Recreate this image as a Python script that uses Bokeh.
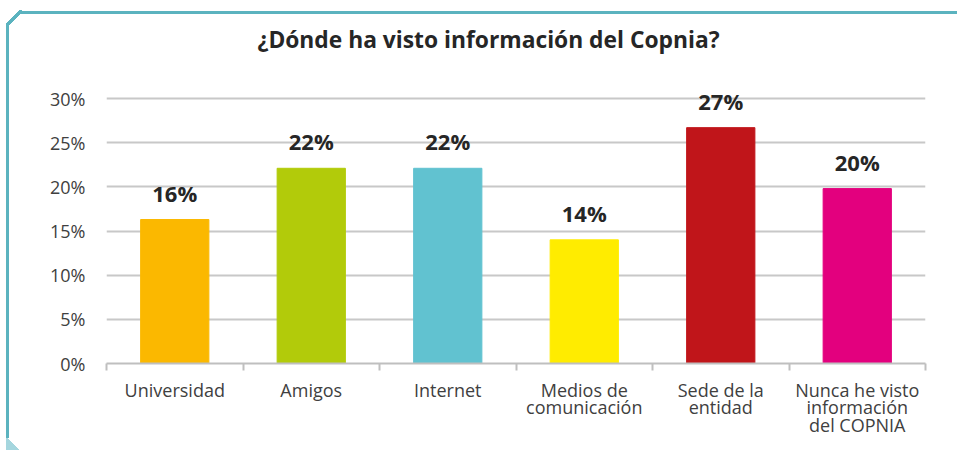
from bokeh.plotting import figure
from bokeh.models import (ColumnDataSource, FixedTicker, NumeralTickFormatter, Range1d)
from bokeh.core.properties import value
from bokeh.embed import file_html
from bokeh.resources import INLINE

# ---- data ----
categories = ["Universidad", "Amigos", "Internet", "Medios de\ncomunicación",
              "Sede de la\nentidad", "Nunca he visto\ninformación\ndel COPNIA"]
values = [0.163, 0.221, 0.221, 0.140, 0.267, 0.198]
value_labels = ["16%", "22%", "22%", "14%", "27%", "20%"]
colors = ["#FBB800", "#B2CB0A", "#61C2D0", "#FFEC00", "#C0151A", "#E3007E"]
y_ticks = [0, 0.05, 0.10, 0.15, 0.20, 0.25, 0.30]
title_text = "¿Dónde ha visto información del Copnia?"

FONT = "Open Sans"
TXT = "#404040"
TEAL = "#5bb3bf"

positions = [i + 0.5 for i in range(len(categories))]
boundaries = list(range(len(categories) + 1))

src = ColumnDataSource(dict(x=positions, top=values, color=colors, lab=value_labels))

W, H = 957, 450
FL, FR, FB = 106, 925, 363
GRID_TOP = 98          # pixel row of the 30% gridline
FT = 63                # frame top (room for the value labels)
y_max = y_ticks[-1] * (FB - FT) / (FB - GRID_TOP)

p = figure(width=W, height=H, output_backend="svg", toolbar_location=None,
           x_range=Range1d(0, len(categories)), y_range=Range1d(0, y_max),
           min_border_left=FL, min_border_right=W - FR, min_border_top=FT,
           min_border_bottom=H - FB)
p.outline_line_color = None
p.background_fill_color = "white"
p.border_fill_color = None
p.styles = {
    "background": (
        f"linear-gradient({TEAL},{TEAL}) 20px 11px / 940px 3px no-repeat, "
        f"linear-gradient({TEAL},{TEAL}) 6px 24px / 3px 414px no-repeat, "
        f"linear-gradient(to bottom right, transparent 42%, {TEAL} 42%, {TEAL} 58%, transparent 58%) 6px 10px / 16px 16px no-repeat, "
        "linear-gradient(to top right, #a5d6de 50%, transparent 50%) 6px 437px / 13px 13px no-repeat, "
        "white"
    )
}

p.vbar(x="x", top="top", width=0.5, color="color", source=src)
p.text(x="x", y="top", text="lab", source=src, text_align="center",
       text_baseline="alphabetic", y_offset=-27,
       text_font=value(FONT), text_font_size="22px", text_font_style="bold",
       text_color="#262626")

# title
p.title.text = title_text
p.title.align = "left"
p.title.offset = 151
p.title.standoff = 18
p.title.text_font = FONT
p.title.text_font_size = "22.8px"
p.title.text_font_style = "bold"
p.title.text_color = "#262626"

# y axis
ya = p.yaxis[0]
ya.ticker = FixedTicker(ticks=y_ticks)
ya.formatter = NumeralTickFormatter(format="0%")
ya.axis_line_color = None
ya.major_tick_line_color = None
ya.minor_tick_line_color = None
ya.major_label_standoff = 15
ya.major_label_text_font = FONT
ya.major_label_text_font_size = "18px"
ya.major_label_text_color = TXT

p.ygrid.ticker = FixedTicker(ticks=y_ticks)
p.ygrid.grid_line_color = "#c8c8c8"
p.ygrid.grid_line_width = 2
p.xgrid.grid_line_color = None

# x axis
xa = p.xaxis[0]
xa.ticker = FixedTicker(ticks=positions, minor_ticks=boundaries)
xa.major_label_overrides = {pos: cat for pos, cat in zip(positions, categories)}
xa.axis_line_color = "#bfbfbf"
xa.axis_line_width = 2
xa.major_tick_out = 0
xa.major_tick_in = 0
xa.minor_tick_out = 7
xa.minor_tick_in = 0
xa.minor_tick_line_color = "#bfbfbf"
xa.minor_tick_line_width = 2
xa.major_label_standoff = 7
xa.major_label_text_font = FONT
xa.major_label_text_font_size = "18px"
xa.major_label_text_color = TXT
xa.major_label_text_line_height = 0.74

open("out.html", "w").write(file_html(p, INLINE))
